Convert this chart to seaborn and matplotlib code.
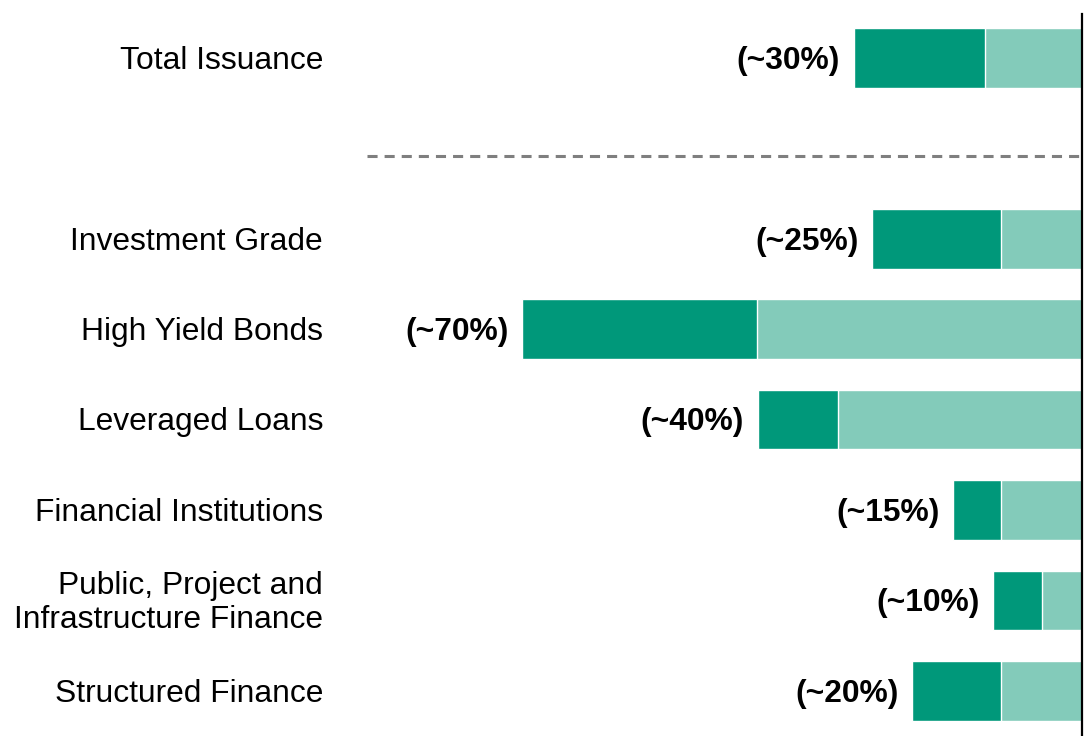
import numpy as np
import pandas as pd
import matplotlib
matplotlib.use("Agg")
import matplotlib.pyplot as plt
import seaborn as sb

# values (percent of issuance)
categories = ["Total Issuance", "Investment Grade", "High Yield Bonds", "Leveraged Loans",
              "Financial Institutions", "Public, Project and\nInfrastructure Finance",
              "Structured Finance"]
positions = [0, 2, 3, 4, 5, 6, 7]
dark_share = [16.4, 16.1, 29.4, 10.0, 6.0, 6.1, 11.1]
light_share = [12.1, 10.1, 40.6, 30.5, 10.1, 5.0, 10.1]
pct_labels = ["(~30%)", "(~25%)", "(~70%)", "(~40%)", "(~15%)", "(~10%)", "(~20%)"]

dark_col = "#00987A"
light_col = "#83CBBA"

sb.set_style("white")
plt.rcParams['font.family'] = ['Liberation Sans', 'DejaVu Sans']
plt.rcParams['text.color'] = 'black'

df = pd.DataFrame({"cat": categories, "pos": positions,
                   "dark": dark_share, "light": light_share})
df["total"] = -(df["dark"] + df["light"])
df["near"] = -df["light"]

fig = plt.figure(figsize=(10.89, 7.36), dpi=100)
ax = fig.add_axes([367/1089, 0, 715/1089, 722/736])

sb.barplot(data=df, x="total", y="pos", orient="h", native_scale=True, width=0.66,
           color=dark_col, saturation=1, ax=ax)
sb.barplot(data=df, x="near", y="pos", orient="h", native_scale=True, width=0.66,
           color=light_col, saturation=1, ax=ax)

ax.set_xlim(-89.4, 0)
ax.set_ylim(7.5, -0.487)

# separator between total and the segments
ax.axhline(1.08, color="#7F7F7F", lw=2.2, dashes=(3.3, 2.3))

for sp in ["left", "top", "bottom"]:
    ax.spines[sp].set_visible(False)
ax.spines["right"].set_color("black")
ax.spines["right"].set_linewidth(1.6)
ax.set_xticks([])
ax.set_yticks([])
ax.set_xlabel("")
ax.set_ylabel("")

trans = matplotlib.transforms.blended_transform_factory(ax.transAxes, ax.transData)
for cat, pos, tot, lab in zip(categories, positions, df["total"], pct_labels):
    ax.annotate(cat, xy=(-0.0615, pos), xycoords=trans, xytext=(0, -2),
                textcoords="offset points", ha="right", va="center",
                fontsize=22.9, linespacing=1.18, multialignment="right", color="black")
    ax.annotate(lab, xy=(tot, pos), xytext=(-10, -2), textcoords="offset points",
                ha="right", va="center", fontsize=22.9, fontweight="bold", color="black")

fig.savefig("out.png", dpi=100)
